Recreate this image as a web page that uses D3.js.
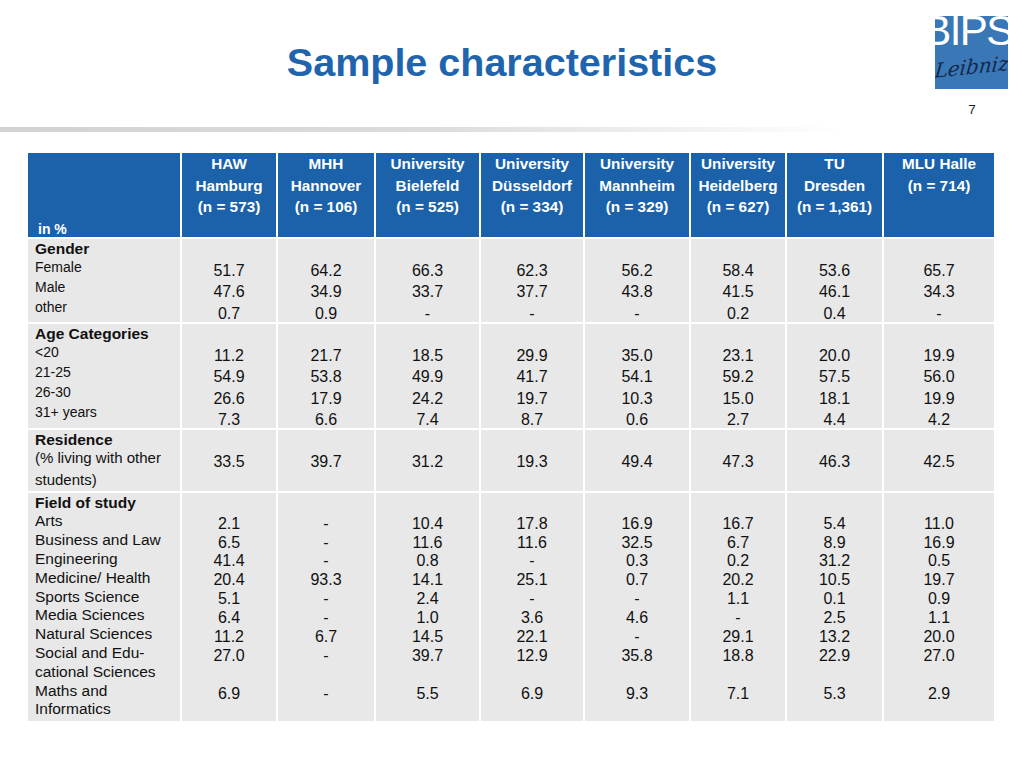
<!DOCTYPE html>
<html>
<head>
<meta charset="utf-8">
<script src="https://cdn.jsdelivr.net/npm/d3@7"></script>
<style>
  body { margin: 0; background: #fff; }
  svg { display: block; font-family: "Liberation Sans", Arial, sans-serif; }
</style>
</head>
<body>
<div id="chart"></div>
<script>
// table content
const headerLines = [
  ["HAW", "Hamburg", "(n = 573)"],
  ["MHH", "Hannover", "(n = 106)"],
  ["University", "Bielefeld", "(n = 525)"],
  ["University", "Düsseldorf", "(n = 334)"],
  ["University", "Mannheim", "(n = 329)"],
  ["University", "Heidelberg", "(n = 627)"],
  ["TU", "Dresden", "(n = 1,361)"],
  ["MLU Halle", "(n = 714)"]
];

const genderLabels = [["Female"], ["Male"], ["other"]];
const genderValues = [
  [51.7, 64.2, 66.3, 62.3, 56.2, 58.4, 53.6, 65.7],
  [47.6, 34.9, 33.7, 37.7, 43.8, 41.5, 46.1, 34.3],
  [0.7, 0.9, null, null, null, 0.2, 0.4, null]
];

const ageLabels = [["<20"], ["21-25"], ["26-30"], ["31+ years"]];
const ageValues = [
  [11.2, 21.7, 18.5, 29.9, 35.0, 23.1, 20.0, 19.9],
  [54.9, 53.8, 49.9, 41.7, 54.1, 59.2, 57.5, 56.0],
  [26.6, 17.9, 24.2, 19.7, 10.3, 15.0, 18.1, 19.9],
  [7.3, 6.6, 7.4, 8.7, 0.6, 2.7, 4.4, 4.2]
];

const residenceLabels = [["(% living with other", "students)"]];
const residenceValues = [
  [33.5, 39.7, 31.2, 19.3, 49.4, 47.3, 46.3, 42.5]
];

const fieldLabels = [
  ["Arts"], ["Business and Law"], ["Engineering"], ["Medicine/ Health"],
  ["Sports Science"], ["Media Sciences"], ["Natural Sciences"],
  ["Social and Edu-", "cational Sciences"], ["Maths and", "Informatics"]
];
const fieldValues = [
  [2.1, null, 10.4, 17.8, 16.9, 16.7, 5.4, 11.0],
  [6.5, null, 11.6, 11.6, 32.5, 6.7, 8.9, 16.9],
  [41.4, null, 0.8, null, 0.3, 0.2, 31.2, 0.5],
  [20.4, 93.3, 14.1, 25.1, 0.7, 20.2, 10.5, 19.7],
  [5.1, null, 2.4, null, null, 1.1, 0.1, 0.9],
  [6.4, null, 1.0, 3.6, 4.6, null, 2.5, 1.1],
  [11.2, 6.7, 14.5, 22.1, null, 29.1, 13.2, 20.0],
  [27.0, null, 39.7, 12.9, 35.8, 18.8, 22.9, 27.0],
  [6.9, null, 5.5, 6.9, 9.3, 7.1, 5.3, 2.9]
];

// layout
const W = 1024, H = 768;
const colEdges = [28, 181, 277, 375, 480, 584, 690, 786, 883, 995];
const headerTop = 153, headerBottom = 237;
const sections = [
  { title: "Gender", labels: genderLabels, values: genderValues, top: 239, bottom: 322,
    labelStep: 20, valueStart: 31, valueStep: 21.5, labelSize: 14 },
  { title: "Age Categories", labels: ageLabels, values: ageValues, top: 324, bottom: 428,
    labelStep: 20, valueStart: 31, valueStep: 21.5, labelSize: 14 },
  { title: "Residence", labels: residenceLabels, values: residenceValues, top: 430, bottom: 491,
    labelStep: 21.5, valueStart: 31, valueStep: 21.5, labelSize: 15 },
  { title: "Field of study", labels: fieldLabels, values: fieldValues, top: 493, bottom: 721,
    labelStep: 18.8, valueStart: 30, valueStep: 18.9, labelSize: 15.5 }
];

const blue = "#1b62aa";
const cellGray = "#e8e8e8";
const fmt = d3.format(".1f");

const colX = d3.scaleOrdinal().domain(d3.range(colEdges.length)).range(colEdges);
const colCenter = i => (colX(i + 1) + colX(i + 2)) / 2;

const svg = d3.select("#chart").append("svg")
  .attr("width", W).attr("height", H);

const defs = svg.append("defs");
const grad = defs.append("linearGradient").attr("id", "rule");
grad.append("stop").attr("offset", "0%").attr("stop-color", "#d2d2d2");
grad.append("stop").attr("offset", "45%").attr("stop-color", "#dcdcdc");
grad.append("stop").attr("offset", "88%").attr("stop-color", "#ffffff");

defs.append("clipPath").attr("id", "logoClip")
  .append("rect").attr("x", 935).attr("y", 16).attr("width", 73).attr("height", 73);

// title + rule + page number
svg.append("text")
  .attr("x", 502).attr("y", 76)
  .attr("text-anchor", "middle")
  .attr("font-size", 39.5).attr("font-weight", "bold")
  .attr("fill", "#2164ae")
  .text("Sample characteristics");

svg.append("rect")
  .attr("x", 0).attr("y", 127).attr("width", 960).attr("height", 5)
  .attr("fill", "url(#rule)");

svg.append("text")
  .attr("x", 972).attr("y", 114)
  .attr("text-anchor", "middle")
  .attr("font-size", 13.5).attr("fill", "#222")
  .text("7");

// logo
const logo = svg.append("g").attr("clip-path", "url(#logoClip)");
logo.append("rect").attr("x", 935).attr("y", 16).attr("width", 73).attr("height", 73)
  .attr("fill", "#3a77b7");
logo.append("text")
  .attr("x", 968).attr("y", 45)
  .attr("text-anchor", "middle")
  .attr("font-size", 42).attr("fill", "#fff")
  .attr("letter-spacing", -1.5)
  .text("BIPS");
logo.append("text")
  .attr("x", 0).attr("y", 0)
  .attr("text-anchor", "middle")
  .attr("font-family", "DejaVu Serif, serif")
  .attr("font-style", "italic")
  .attr("font-size", 20).attr("fill", "#14284a")
  .attr("transform", "translate(971,74) rotate(-6) skewX(-12)")
  .text("Leibniz");

// header row
const header = svg.append("g");
header.selectAll("rect")
  .data(d3.range(colEdges.length - 1))
  .join("rect")
  .attr("x", i => colX(i) + (i ? 1 : 0))
  .attr("y", headerTop)
  .attr("width", i => colX(i + 1) - colX(i) - (i ? 1 : 0) - 1)
  .attr("height", headerBottom - headerTop)
  .attr("fill", blue);

header.selectAll("g.col")
  .data(headerLines)
  .join("g").attr("class", "col")
  .each(function (lines, i) {
    d3.select(this).selectAll("text")
      .data(lines)
      .join("text")
      .attr("x", colCenter(i))
      .attr("y", (d, k) => 164 + k * 21.5)
      .attr("dy", "0.35em")
      .attr("text-anchor", "middle")
      .attr("font-size", 15.3).attr("font-weight", "bold")
      .attr("fill", "#fff")
      .text(d => d);
  });

header.append("text")
  .attr("x", 38).attr("y", 229).attr("dy", "0.35em")
  .attr("font-size", 14).attr("font-weight", "bold").attr("fill", "#fff")
  .text("in %");

// body sections
sections.forEach(sec => {
  const g = svg.append("g");
  g.selectAll("rect")
    .data(d3.range(colEdges.length - 1))
    .join("rect")
    .attr("x", i => colX(i) + (i ? 1 : 0))
    .attr("y", sec.top)
    .attr("width", i => colX(i + 1) - colX(i) - (i ? 1 : 0) - 1)
    .attr("height", sec.bottom - sec.top)
    .attr("fill", cellGray);

  g.append("text")
    .attr("x", 35).attr("y", sec.top + 10).attr("dy", "0.35em")
    .attr("font-size", 15.5).attr("font-weight", "bold").attr("fill", "#111")
    .text(sec.title);

  // line index of the first line of each row
  let line = 0;
  const starts = sec.labels.map(l => { const s = line; line += l.length; return s; });

  sec.labels.forEach((lines, r) => {
    g.selectAll(null)
      .data(lines)
      .join("text")
      .attr("x", 35)
      .attr("y", (d, k) => sec.top + 28 + (starts[r] + k) * sec.labelStep)
      .attr("dy", "0.35em")
      .attr("font-size", sec.labelSize).attr("fill", "#111")
      .text(d => d);

    g.selectAll(null)
      .data(sec.values[r])
      .join("text")
      .attr("x", (d, i) => colCenter(i))
      .attr("y", sec.top + sec.valueStart + starts[r] * sec.valueStep)
      .attr("dy", "0.35em")
      .attr("text-anchor", "middle")
      .attr("font-size", 16).attr("fill", "#111")
      .text(d => d == null ? "-" : fmt(d));
  });
});
</script>
</body>
</html>
